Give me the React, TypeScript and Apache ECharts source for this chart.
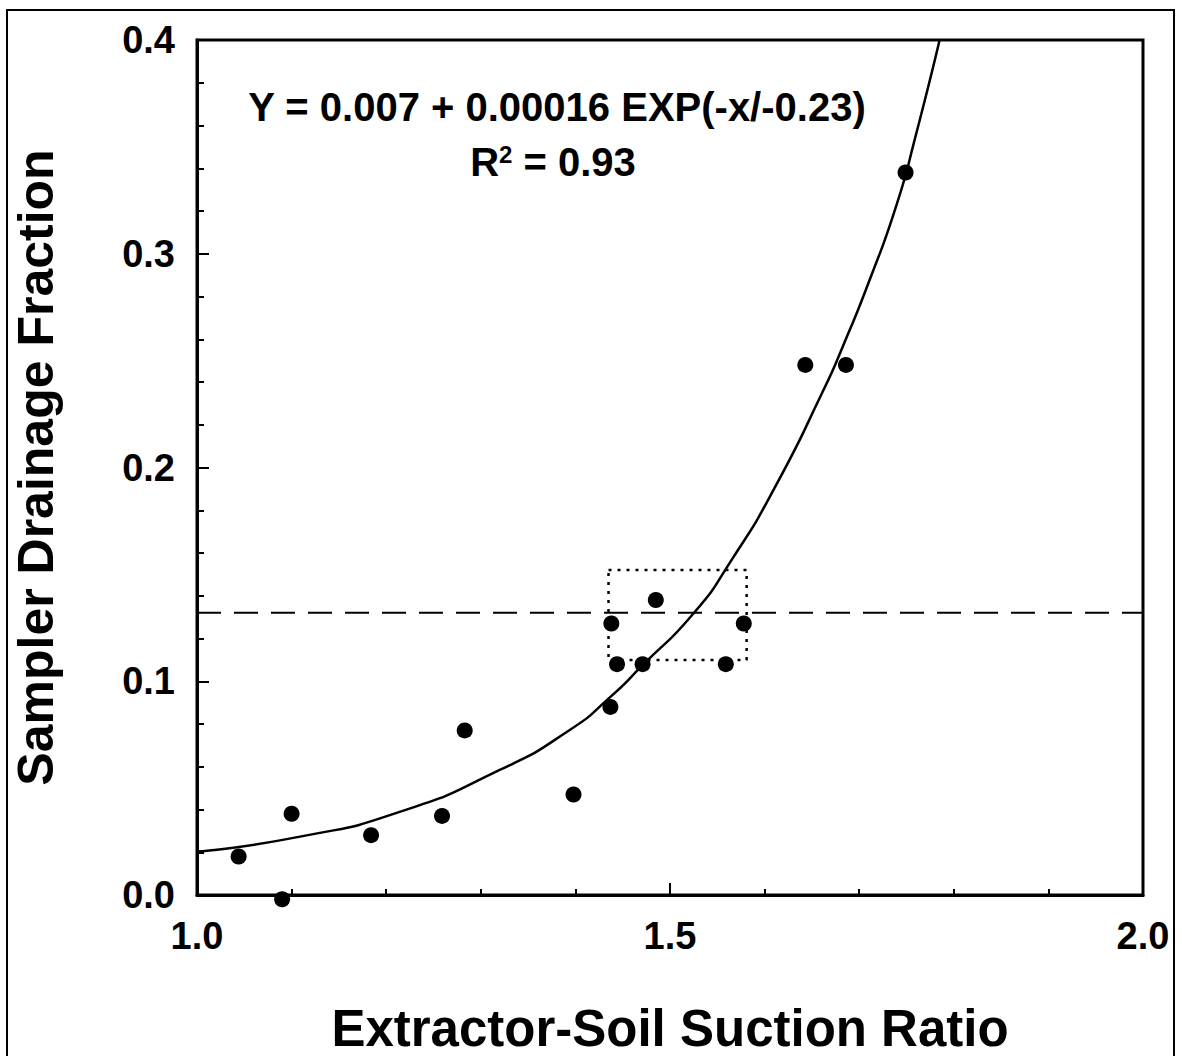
import React, { useEffect, useRef } from "react";
import * as echarts from "echarts";

// Observed points: [suction ratio, drainage fraction]
const ratioValues = [1.044, 1.090, 1.100, 1.184, 1.259, 1.283, 1.398, 1.437, 1.438, 1.444, 1.471, 1.485, 1.559, 1.578, 1.643, 1.686, 1.749];
const fractionValues = [0.018, -0.002, 0.038, 0.028, 0.037, 0.077, 0.047, 0.088, 0.127, 0.108, 0.108, 0.138, 0.108, 0.127, 0.248, 0.248, 0.338];

// Fitted curve
const curveX = [1.0, 1.109, 1.215, 1.320, 1.394, 1.437, 1.471, 1.525, 1.565, 1.61, 1.662, 1.683, 1.711, 1.740, 1.759, 1.785];
const curveY = [0.0203, 0.0273, 0.039, 0.0585, 0.0772, 0.0927, 0.1075, 0.1318, 0.1567, 0.19, 0.236, 0.257, 0.2877, 0.3236, 0.354, 0.40];

// Horizontal reference line level
const refLevel = 0.132;
// Dotted box bounds
const boxX = [1.435, 1.581];
const boxY = [0.110, 0.152];

const xTicks = ["1.0", "1.5", "2.0"];
const yTicks = ["0.0", "0.1", "0.2", "0.3", "0.4"];

const equationText = "Y = 0.007 + 0.00016 EXP(-x/-0.23)";
const r2Value = "0.93";

const FONT = "'Liberation Sans', Arial, Helvetica, sans-serif";

export default function App() {
  const ref = useRef<HTMLDivElement>(null);
  useEffect(() => {
    document.body.style.margin = "0";
    document.body.style.overflow = "hidden";
    if (!ref.current) return;
    const chart = echarts.init(ref.current, null, { renderer: "svg" });
    const scatterData = ratioValues.map((x, i) => [x, fractionValues[i]]);
    const curveData = curveX.map((x, i) => [x, curveY[i]]);
    const boxData = [
      [boxX[0], boxY[1]],
      [boxX[1], boxY[1]],
      [boxX[1], boxY[0]],
      [boxX[0], boxY[0]],
      [boxX[0], boxY[1]],
    ];
    chart.setOption({
      animation: false,
      backgroundColor: "#fff",
      grid: {
        left: 197,
        top: 40,
        right: 39,
        bottom: 161,
        containLabel: false,
        outerBoundsMode: "none",
        show: true,
        borderColor: "#000",
        borderWidth: 3,
      },
      xAxis: {
        type: "value",
        min: 1,
        max: 2,
        interval: 0.5,
        name: "Extractor-Soil Suction Ratio",
        nameLocation: "middle",
        nameGap: 108,
        nameTextStyle: { fontFamily: FONT, fontSize: 51, fontWeight: "bold", color: "#000" },
        axisLine: { show: true, onZero: false, lineStyle: { color: "#000", width: 3 } },
        axisTick: { show: true, inside: true, length: 12, lineStyle: { color: "#000", width: 2 } },
        minorTick: { show: true, splitNumber: 5, length: 6, lineStyle: { color: "#000", width: 2 } },
        splitLine: { show: false },
        axisLabel: {
          margin: 22,
          fontFamily: FONT,
          fontSize: 38,
          fontWeight: "bold",
          color: "#000",
          formatter: (v: number) => xTicks.find((t) => Math.abs(parseFloat(t) - v) < 1e-6) ?? "",
        },
      },
      yAxis: {
        type: "value",
        min: 0,
        max: 0.4,
        interval: 0.1,
        name: "Sampler Drainage Fraction",
        nameLocation: "middle",
        nameGap: 136,
        nameTextStyle: { fontFamily: FONT, fontSize: 50, fontWeight: "bold", color: "#000" },
        axisLine: { show: true, onZero: false, lineStyle: { color: "#000", width: 3 } },
        axisTick: { show: true, inside: true, length: 12, lineStyle: { color: "#000", width: 2 } },
        minorTick: { show: true, splitNumber: 5, length: 7, lineStyle: { color: "#000", width: 2 } },
        splitLine: { show: false },
        axisLabel: {
          margin: 22,
          fontFamily: FONT,
          fontSize: 38,
          fontWeight: "bold",
          color: "#000",
          formatter: (v: number) => yTicks.find((t) => Math.abs(parseFloat(t) - v) < 1e-6) ?? "",
        },
      },
      series: [
        {
          type: "line",
          data: curveData,
          smooth: 0.6,
          showSymbol: false,
          lineStyle: { color: "#000", width: 2.5 },
          z: 3,
        },
        {
          type: "line",
          data: [[1, refLevel], [2, refLevel]],
          showSymbol: false,
          lineStyle: { color: "#000", width: 2, type: [24, 13] },
          z: 2,
        },
        {
          type: "line",
          data: boxData,
          showSymbol: false,
          lineStyle: { color: "#000", width: 2.5, type: [3, 6] },
          z: 2,
        },
        {
          type: "scatter",
          data: scatterData,
          symbol: "circle",
          symbolSize: 16,
          clip: false,
          itemStyle: { color: "#000", opacity: 1 },
          z: 4,
        },
      ],
      graphic: [
        {
          type: "rect",
          shape: { x: 7, y: 10, width: 1167, height: 1070 },
          style: { fill: "none", stroke: "#000", lineWidth: 2 },
          silent: true,
        },
        {
          type: "text",
          x: 557,
          y: 107,
          style: {
            text: equationText,
            font: `bold 40px ${FONT}`,
            fill: "#000",
            textAlign: "center",
            textVerticalAlign: "middle",
          },
        },
        {
          type: "text",
          x: 553,
          y: 162,
          style: {
            text: "R{sup|2} = " + r2Value,
            font: `bold 40px ${FONT}`,
            fill: "#000",
            textAlign: "center",
            textVerticalAlign: "middle",
            rich: {
              sup: { fontSize: 24, fontWeight: "bold", fontFamily: FONT, verticalAlign: "top", padding: [0, 0, 14, 0] },
            },
          },
        },
      ],
    });
    return () => chart.dispose();
  }, []);
  return <div ref={ref} style={{ width: 1182, height: 1056 }} />;
}
